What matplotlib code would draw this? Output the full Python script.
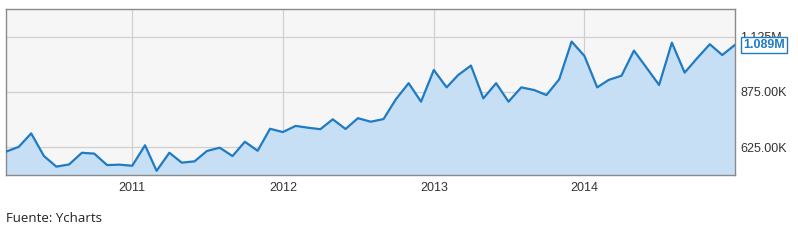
import matplotlib
matplotlib.use("Agg")
import matplotlib.pyplot as plt
import pandas as pd

# monthly values in thousands, Mar 2010 .. Jan 2015
start_month = "2010-03-01"
values_k = [
    604, 626, 687, 584, 536, 546, 599, 595, 543, 545, 540, 633,
    517, 599, 554, 560, 607, 622, 584, 649, 608, 708, 693, 721,
    713, 706, 751, 707, 756, 740, 752, 842, 915, 831, 975, 896,
    952, 995, 846, 915, 831, 896, 884, 861, 933, 1104, 1039, 896,
    930, 949, 1063, 984, 907, 1099, 963, 1028, 1092, 1043, 1089,
]
ytick_vals = [625, 875, 1125]
ytick_labels = ["625.00K", "875.00K", "1.125M"]
year_ticks = ["2011", "2012", "2013", "2014"]
last_label = "1.089M"
source_text = "Fuente: Ycharts"

LINE = "#1f7bc4"
FILL = "#c6dff4"

months = pd.date_range(start_month, periods=len(values_k), freq="MS")

fig = plt.figure(figsize=(7.98, 2.4), dpi=100)
ax = fig.add_axes([6 / 798, 65 / 240, 729 / 798, 166 / 240])
ax.set_facecolor("#f6f6f6")

ax.fill_between(months, values_k, 0, color=FILL, zorder=2)
ax.plot(months, values_k, color=LINE, linewidth=1.6, zorder=3)

ax.set_xlim(months[0], months[-1])
ax.set_ylim(498, 1252)

ax.set_xticks([pd.Timestamp(f"{y}-01-01") for y in year_ticks])
ax.set_xticklabels(year_ticks)
ax.set_yticks(ytick_vals)
ax.set_yticklabels(ytick_labels)
ax.yaxis.tick_right()
ax.tick_params(axis="both", length=0, labelsize=9, colors="#333333")
ax.tick_params(axis="x", pad=5)
ax.tick_params(axis="y", pad=4)
for lab in ax.get_xticklabels() + ax.get_yticklabels():
    lab.set_fontfamily("Liberation Sans")
# the top label sits a bit above its grid line, half hidden by the last-value box
ax.get_yticklabels()[-1].set_y(1131)

ax.grid(True, color="#cfcfcf", linewidth=0.9, zorder=1)
for gl in ax.get_xgridlines() + ax.get_ygridlines():
    gl.set_zorder(2.5)
for sp in ax.spines.values():
    sp.set_color("#8a8a8a")
    sp.set_linewidth(1.0)

ax.annotate(last_label, xy=(months[-1], values_k[-1]), xytext=(6, 0),
            textcoords="offset points", ha="left", va="center",
            fontsize=9, fontweight="bold", color=LINE, family="Liberation Sans",
            bbox=dict(boxstyle="square,pad=0.15", fc="white", ec=LINE, lw=1.0),
            zorder=5, annotation_clip=False)

fig.text(6 / 798, 1 - 219 / 240, source_text, fontsize=9.5, color="#222222",
         family="Open Sans", va="center", ha="left")

fig.savefig("out.png", dpi=100, facecolor="white")
